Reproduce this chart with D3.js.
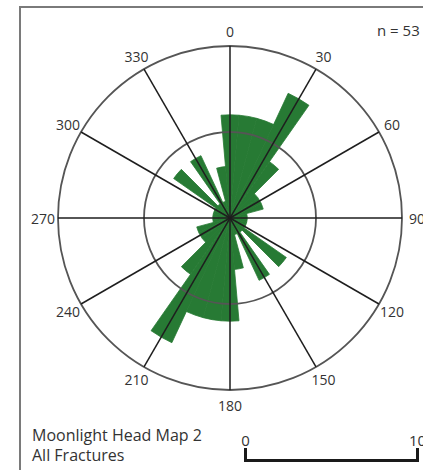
<!DOCTYPE html>
<html>
<head>
<meta charset="utf-8">
<script src="https://cdn.jsdelivr.net/npm/d3@7"></script>
<style>
  html, body { margin: 0; padding: 0; background: #fff; }
  svg { display: block; }
  text { font-family: "Open Sans", "DejaVu Sans", sans-serif; fill: #333; }
</style>
</head>
<body>
<svg id="chart" width="423" height="470"></svg>
<script>
// Fracture strike counts in 10° bins, centred on each angle (0–170°).
// Strikes are axial, so every bin is also drawn at angle + 180°.
const binAngles = [0, 10, 20, 30, 40, 50, 60, 70, 80, 90, 100, 110, 120, 130, 140, 150, 160, 170];
const binCounts = [6, 6, 6, 8, 4, 2, 2, 2, 1, 1, 1, 1, 1, 4, 1, 4, 1, 3];

// Compass labels round the outside of the plot
const axisLabels = [0, 30, 60, 90, 120, 150, 180, 210, 240, 270, 300, 330];
// Reference circles (count values)
const ringValues = [5, 10];
// Scale bar end values
const scaleTicks = [0, 10];

const sampleSize = 53;
const titleLines = ["Moonlight Head Map 2", "All Fractures"];

const binWidth = 10;
const cx = 230, cy = 218;
const outerR = 172;

const svg = d3.select("#chart");

// frame
svg.append("rect")
  .attr("x", 20).attr("y", 7)
  .attr("width", 440).attr("height", 500)
  .attr("fill", "none")
  .attr("stroke", "#7a7a7a")
  .attr("stroke-width", 2);

const r = d3.scaleLinear().domain([0, 10]).range([0, outerR]);
const rad = d => d * Math.PI / 180;

const g = svg.append("g").attr("transform", `translate(${cx},${cy})`);

// petals
const petals = [];
binAngles.forEach((a, i) => {
  petals.push({ angle: a, count: binCounts[i] });
  petals.push({ angle: a + 180, count: binCounts[i] });
});

const arc = d3.arc()
  .innerRadius(0)
  .outerRadius(d => r(d.count))
  .startAngle(d => rad(d.angle - binWidth / 2))
  .endAngle(d => rad(d.angle + binWidth / 2));

g.append("g").selectAll("path")
  .data(petals)
  .join("path")
  .attr("d", arc)
  .attr("fill", "#277a34")
  .attr("stroke", "#277a34")
  .attr("stroke-width", 0.8);

// rings
g.append("g").selectAll("circle")
  .data(ringValues)
  .join("circle")
  .attr("r", d => r(d))
  .attr("fill", "none")
  .attr("stroke", "#555")
  .attr("stroke-width", 1.8);

// spokes every 30°
g.append("g").selectAll("line")
  .data(axisLabels)
  .join("line")
  .attr("x1", 0).attr("y1", 0)
  .attr("x2", d => Math.sin(rad(d)) * r(10))
  .attr("y2", d => -Math.cos(rad(d)) * r(10))
  .attr("stroke", "#1e1e1e")
  .attr("stroke-width", 1.5);

// compass labels
const labelR = r(10) + 15;
g.append("g").selectAll("text")
  .data(axisLabels)
  .join("text")
  .attr("x", d => Math.sin(rad(d)) * labelR)
  .attr("y", d => -Math.cos(rad(d)) * labelR)
  .attr("text-anchor", "middle")
  .attr("dominant-baseline", "central")
  .attr("font-size", 14)
  .text(d => d);

// sample size
svg.append("text")
  .attr("x", 377).attr("y", 36)
  .attr("font-size", 15)
  .text(`n = ${sampleSize}`);

// title
svg.append("g").selectAll("text")
  .data(titleLines)
  .join("text")
  .attr("x", 32)
  .attr("y", (d, i) => 441 + i * 20)
  .attr("font-size", 16)
  .text(d => d);

// scale bar
const barScale = d3.scaleLinear().domain([0, 10]).range([0, r(10)]);
const bar = svg.append("g")
  .attr("transform", "translate(245,460)")
  .call(d3.axisTop(barScale)
    .tickValues(scaleTicks)
    .tickSizeInner(0)
    .tickSizeOuter(12)
    .tickPadding(14));
bar.select(".domain")
  .attr("stroke", "#1a1a1a")
  .attr("stroke-width", 3);
bar.selectAll("text")
  .attr("font-family", "\"Open Sans\", sans-serif")
  .attr("font-size", 15)
  .attr("fill", "#333");
</script>
</body>
</html>
